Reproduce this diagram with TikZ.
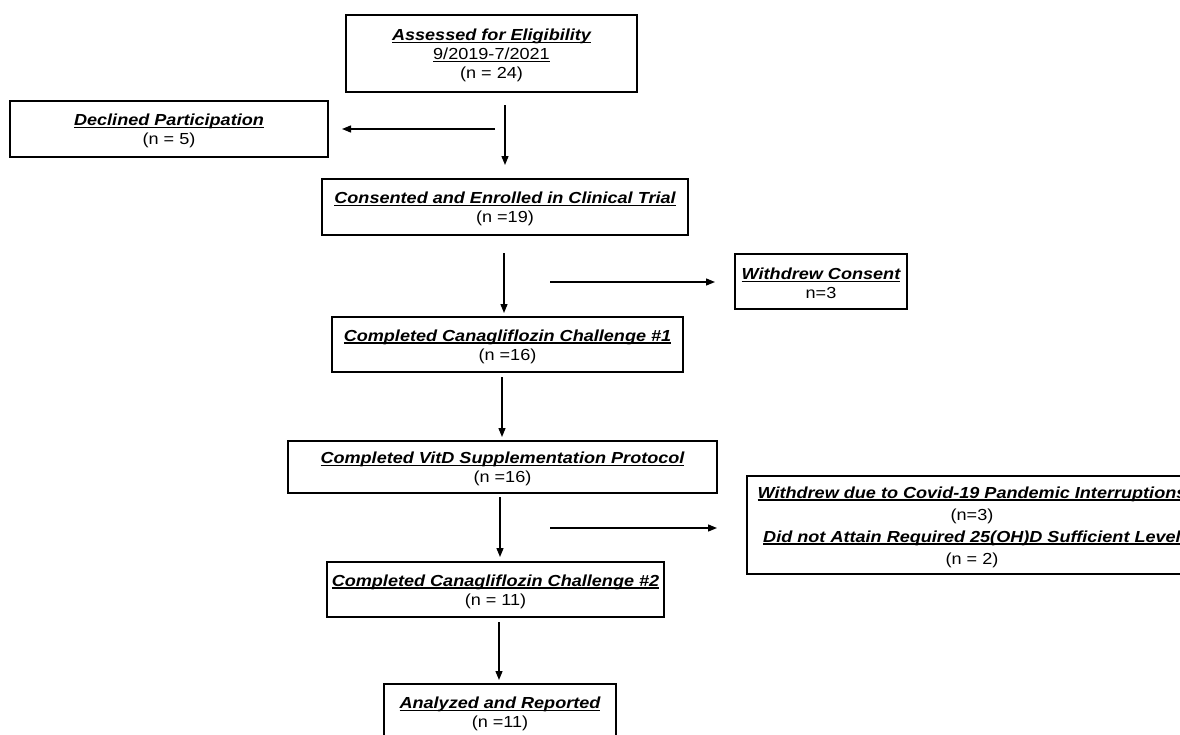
\documentclass[tikz,border=0pt]{standalone}
\usepackage{fontspec}
\setmainfont[FakeStretch=1.13]{Liberation Sans}
\usetikzlibrary{arrows.meta}
\newlength\tlen
\newcommand\ttl[1]{\settowidth\tlen{\bfseries\itshape #1}\rule{0pt}{15.5pt}\rlap{\rule[-2.6pt]{\tlen}{1.3pt}}{\bfseries\itshape #1}}
\begin{document}
\begin{tikzpicture}[x=1pt,y=-1pt,
  box/.style={draw, line width=1.4pt, inner sep=0pt, align=center,
    font=\fontsize{16}{19}\selectfont},
  arr/.style={line width=1.3pt, -{Triangle[length=9pt,width=7pt]}}]
\useasboundingbox (0,0) rectangle (1180,734);
\clip (0,0) rectangle (1180,734);
\node[box, minimum width=291pt, minimum height=77pt] (A) at (491.5,53.5)
  {\ttl{Assessed for Eligibility}\\ \underline{9/2019-7/2021}\\ (n = 24)};
\node[box, minimum width=318pt, minimum height=56pt] (D) at (169,129)
  {\ttl{Declined Participation}\\ (n = 5)};
\node[box, minimum width=366pt, minimum height=56pt] (C) at (505,207)
  {\ttl{Consented and Enrolled in Clinical Trial}\\ (n =19)};
\node[box, minimum width=172pt, minimum height=55pt] (W) at (821,281.5)
  {\ttl{Withdrew Consent}\\ n=3};
\node[box, minimum width=351pt, minimum height=55pt] (C1) at (507.5,344.5)
  {\ttl{Completed Canagliflozin Challenge \#1}\\ (n =16)};
\node[box, minimum width=429pt, minimum height=52pt] (V) at (502.5,467)
  {\ttl{Completed VitD Supplementation Protocol}\\ (n =16)};
\node[box, minimum width=450pt, minimum height=98pt, font=\fontsize{16}{22}\selectfont] (R) at (972,525)
  {\ttl{Withdrew due to Covid-19 Pandemic Interruptions}\\ (n=3)\\
   \ttl{Did not Attain Required 25(OH)D Sufficient Level}\\ (n = 2)};
\node[box, minimum width=337pt, minimum height=55pt] (C2) at (495.5,589.5)
  {\ttl{Completed Canagliflozin Challenge \#2}\\ (n = 11)};
\node[box, minimum width=232pt, minimum height=56pt] (AR) at (500,712)
  {\ttl{Analyzed and Reported}\\ (n =11)};
\coordinate (a1s) at (505,105); \coordinate (a1e) at (505,165);
\coordinate (a2s) at (495,129); \coordinate (a2e) at (342,129);
\coordinate (a3s) at (504,253); \coordinate (a3e) at (504,313);
\coordinate (a4s) at (550,282); \coordinate (a4e) at (715,282);
\coordinate (a5s) at (502,377); \coordinate (a5e) at (502,437);
\coordinate (a6s) at (500,497); \coordinate (a6e) at (500,557);
\coordinate (a7s) at (550,528); \coordinate (a7e) at (717,528);
\coordinate (a8s) at (499,622); \coordinate (a8e) at (499,680);
\draw[arr] (a1s) -- (a1e);
\draw[arr] (a2s) -- (a2e);
\draw[arr] (a3s) -- (a3e);
\draw[arr] (a4s) -- (a4e);
\draw[arr] (a5s) -- (a5e);
\draw[arr] (a6s) -- (a6e);
\draw[arr] (a7s) -- (a7e);
\draw[arr] (a8s) -- (a8e);
\end{tikzpicture}
\end{document}
